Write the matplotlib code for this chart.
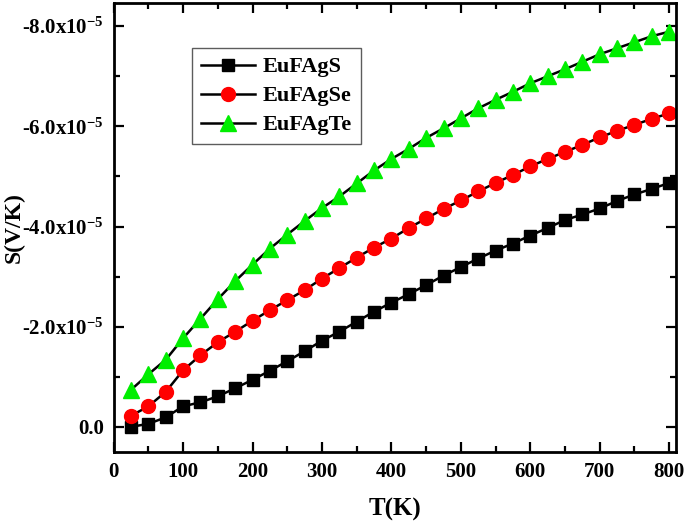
import numpy as np
import matplotlib
matplotlib.use("Agg")
import matplotlib.pyplot as plt
from matplotlib.ticker import MultipleLocator, FuncFormatter

plt.rcParams['font.family'] = ['Liberation Serif', 'DejaVu Serif']
plt.rcParams['font.weight'] = 'bold'
plt.rcParams['axes.unicode_minus'] = False
plt.rcParams['mathtext.fontset'] = 'custom'
plt.rcParams['mathtext.rm'] = 'Liberation Serif:bold'
plt.rcParams['mathtext.bf'] = 'Liberation Serif:bold'
plt.rcParams['mathtext.it'] = 'Liberation Serif:bold'

# Data (S in units of 1e-5 V/K; values are negative)
T = [25, 50, 75, 100, 125, 150, 175, 200, 225, 250, 275, 300, 325, 350, 375, 400,
     425, 450, 475, 500, 525, 550, 575, 600, 625, 650, 675, 700, 725, 750, 775, 800]
S_EuFAgS = [-0.00, -0.06, -0.19, -0.41, -0.49, -0.61, -0.77, -0.94, -1.12, -1.31, -1.51,
            -1.72, -1.90, -2.10, -2.30, -2.48, -2.65, -2.83, -3.02, -3.19, -3.36, -3.52,
            -3.66, -3.82, -3.97, -4.13, -4.24, -4.36, -4.51, -4.64, -4.75, -4.87]
S_EuFAgSe = [-0.22, -0.41, -0.70, -1.13, -1.43, -1.69, -1.90, -2.12, -2.33, -2.53, -2.73,
             -2.96, -3.17, -3.38, -3.58, -3.76, -3.97, -4.16, -4.35, -4.52, -4.70, -4.87,
             -5.03, -5.20, -5.35, -5.49, -5.63, -5.78, -5.91, -6.03, -6.15, -6.26]
S_EuFAgTe = [-0.74, -1.05, -1.34, -1.77, -2.16, -2.55, -2.91, -3.24, -3.56, -3.84, -4.11,
             -4.37, -4.60, -4.86, -5.12, -5.35, -5.55, -5.77, -5.96, -6.16, -6.36, -6.53,
             -6.69, -6.86, -7.00, -7.14, -7.29, -7.44, -7.56, -7.68, -7.80, -7.89]
SCALE = 1e-5
labels = ['EuFAgS', 'EuFAgSe', 'EuFAgTe']

fig = plt.figure(figsize=(6.85, 5.23), dpi=100)
ax = fig.add_axes([0.166, 0.136, 0.821, 0.858])

T = np.array(T)
ax.plot(T, np.array(S_EuFAgS) * SCALE, color='black', lw=1.8, marker='s', ms=9,
        mfc='black', mec='black', label=labels[0])
ax.plot(T, np.array(S_EuFAgSe) * SCALE, color='black', lw=1.8, marker='o', ms=10,
        mfc='#ff0000', mec='#ff0000', label=labels[1])
ax.plot(T, np.array(S_EuFAgTe) * SCALE, color='black', lw=1.8, marker='^', ms=11.5,
        mfc='#00ee00', mec='#00ee00', label=labels[2])

ax.set_xlim(0, 810)
ax.set_ylim(0.5e-5, -8.46e-5)

ax.xaxis.set_major_locator(MultipleLocator(100))
ax.xaxis.set_minor_locator(MultipleLocator(50))
ax.yaxis.set_major_locator(MultipleLocator(2e-5))
ax.yaxis.set_minor_locator(MultipleLocator(1e-5))

def yfmt(v, pos):
    m = v / 1e-5
    if abs(m) < 1e-9:
        return '0.0'
    return '%.1fx10$^{-5}$' % m

ax.yaxis.set_major_formatter(FuncFormatter(yfmt))

for s in ax.spines.values():
    s.set_linewidth(2.0)
ax.tick_params(which='both', direction='in', top=True, right=True, width=1.6)
ax.tick_params(which='major', length=7, labelsize=15, pad=7)
ax.tick_params(which='minor', length=4)
for lab in ax.get_xticklabels() + ax.get_yticklabels():
    lab.set_fontweight('bold')

ax.set_xlabel('T(K)', fontsize=18, fontweight='bold', labelpad=12)
ax.set_ylabel('S(V/K)', fontsize=17, fontweight='bold')
ax.yaxis.set_label_coords(-0.158, 0.5)

leg = ax.legend(loc='upper left', bbox_to_anchor=(0.14, 0.90), fontsize=16,
                frameon=True, fancybox=False, edgecolor='#333333', handlelength=2.4,
                borderpad=0.4, labelspacing=0.38, handletextpad=0.35, borderaxespad=0)
leg.get_frame().set_linewidth(1.0)
for t in leg.get_texts():
    t.set_fontweight('bold')

fig.savefig('out.png', dpi=100)
